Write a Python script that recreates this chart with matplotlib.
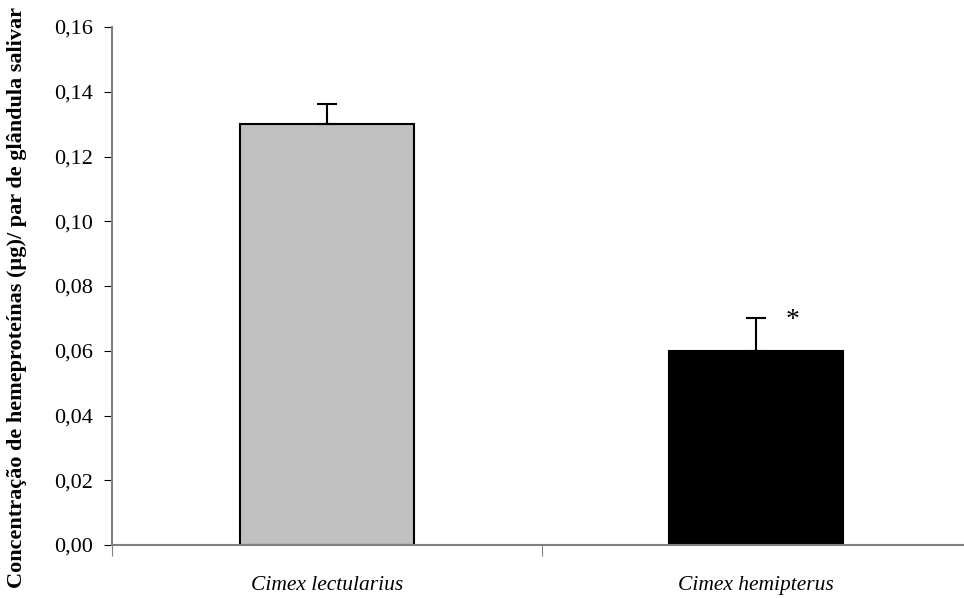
import matplotlib
matplotlib.use("Agg")
import matplotlib.pyplot as plt

categories = ["Cimex lectularius", "Cimex hemipterus"]
values = [0.130, 0.060]
errors = [0.0063, 0.0102]
colors = ["#c0c0c0", "#000000"]
yticks = [0.00, 0.02, 0.04, 0.06, 0.08, 0.10, 0.12, 0.14, 0.16]
ylabel = "Concentração de hemeproteínas (µg)/ par de glândula salivar"
marker_text = "*"

plt.rcParams['font.family'] = ['Liberation Serif', 'DejaVu Serif']

W = 859.0
fig = plt.figure(figsize=(9.64, 5.98), dpi=100)
ax = fig.add_axes([112/964, 53/598, W/964, (545-27)/598])

x = list(range(len(categories)))
ax.bar(x, values, width=0.405, color=colors, edgecolor="black", linewidth=1.5, zorder=2)
for xi, v, e in zip(x, values, errors):
    ax.errorbar([xi], [v + e / 2], yerr=[[e / 2], [e / 2]], fmt='none', ecolor='black',
                elinewidth=1.5, capsize=7.5, capthick=1.5, zorder=3)
ax.text(1.0855, values[1] + errors[1] - 0.0009, marker_text, ha="center", va="center",
        fontsize=20)

ax.set_xlim(-0.5, 1.5)
ax.set_ylim(0, 0.16)
ax.set_yticks(yticks)
ax.set_yticklabels([f"{t:.2f}".replace(".", ",") for t in yticks], fontsize=16)
ax.set_xticks([-0.5, 0.5, 1.5])
ax.set_xticklabels([])
ax.set_xticks(x, minor=True)
ax.set_xticklabels(categories, minor=True, fontsize=15.5, style="italic")
ax.tick_params(axis="x", which="minor", length=0, pad=22)
ax.tick_params(axis="x", which="major", length=8, color="#808080", direction="out")
ax.tick_params(axis="y", length=6, color="black", direction="out", pad=8)

for s in ["top", "right"]:
    ax.spines[s].set_visible(False)
for s in ["left", "bottom"]:
    ax.spines[s].set_color("#808080")
    ax.spines[s].set_linewidth(1.5)

ax.set_ylabel(ylabel, fontsize=16, fontweight="bold")
ax.yaxis.label.set_va("center")
ax.yaxis.set_label_coords((17 - 112) / W, 0.478)

fig.savefig("out.png", dpi=100)
